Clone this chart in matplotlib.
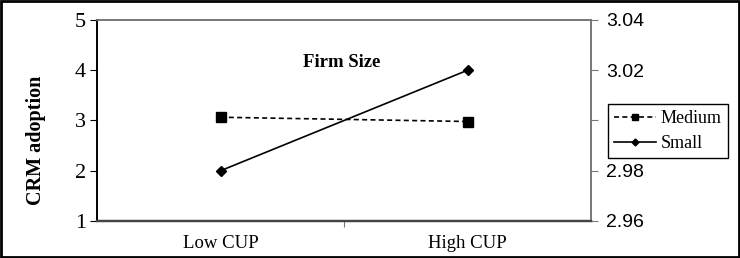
import matplotlib.pyplot as plt
from matplotlib.patches import Rectangle

# данные графика
categories = ["Low CUP", "High CUP"]
small_vals = [2.0, 4.0]            # левая ось
medium_vals = [3.0013, 2.9996]     # правая ось
left_ticks = [1, 2, 3, 4, 5]
right_ticks = [2.96, 2.98, 3.00, 3.02, 3.04]

serif = "Liberation Serif"
sans = "Liberation Sans"
plt.rcParams["font.family"] = serif

fig = plt.figure(figsize=(7.4, 2.58), dpi=100)
ax = fig.add_axes([97 / 740, 1 - 221 / 258, (591 - 97) / 740, (221 - 20) / 258])
ax2 = ax.twinx()

x = [0.5, 1.5]
ax.plot(x, small_vals, color="black", lw=1.2, marker="D", ms=5, label="Small")
ax2.plot(x, medium_vals, color="black", lw=1.2, ls=(0, (3, 2)), marker="s", ms=7,
         label="Medium")

ax.set_xlim(0, 2)
ax.set_ylim(1, 5)
ax2.set_ylim(2.96, 3.04)
ax.set_xticks([1], [""])
ax.set_xticks(x, categories, minor=True)
ax.tick_params(axis="x", which="minor", length=0, labelsize=13.5, pad=10)
ax.tick_params(axis="x", which="major", length=4, direction="out", color="#777777")

ax.set_yticks(left_ticks, [str(v) for v in left_ticks], fontfamily=serif)
ax.tick_params(axis="y", direction="out", length=5, labelsize=16, pad=3)

ax2.set_yticks(right_ticks, [f"{v:.2f}" for v in right_ticks], fontfamily=sans)
ax2.tick_params(axis="y", direction="out", length=5, labelsize=14, pad=6,
                color="#777777")

for a in (ax, ax2):
    a.spines["top"].set_color("#777777")
    a.spines["right"].set_color("#777777")
    a.spines["left"].set_color("black")
    a.spines["bottom"].set_color("#444444")
    for s in a.spines.values():
        s.set_linewidth(1.2)
    a.spines["bottom"].set_linewidth(1.6)

ax.set_ylabel("CRM adoption", fontweight="bold", fontsize=14.5)
ax.yaxis.set_label_coords(-0.103, 0.40)
ax.text(0.99, 4.15, "Firm Size", ha="center", va="center",
        fontweight="bold", fontsize=13.5)

h2, l2 = ax2.get_legend_handles_labels()
h1, l1 = ax.get_legend_handles_labels()
leg = fig.legend(h2 + h1, l2 + l1, loc="center", bbox_to_anchor=(668 / 740, 1 - 131 / 258),
                 frameon=True, fancybox=False, edgecolor="black", framealpha=1,
                 prop={"family": serif, "size": 13}, handlelength=2.3,
                 markerscale=0.7, borderpad=0.35, labelspacing=0.45,
                 handletextpad=0.3)
leg.get_frame().set_linewidth(1.0)

fig.add_artist(Rectangle((0.002, 0.004), 0.996, 0.992, transform=fig.transFigure,
                         fill=False, edgecolor="black", lw=2))

fig.savefig("out.png", dpi=100)
